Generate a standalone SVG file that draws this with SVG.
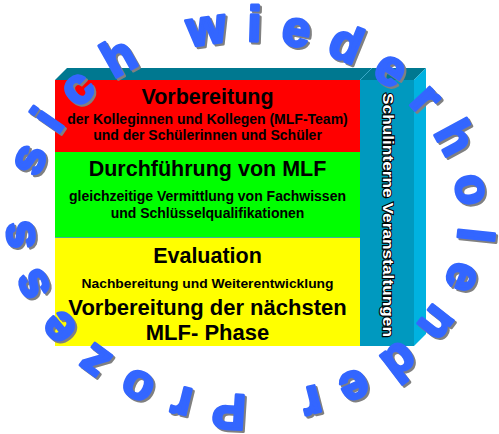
<svg xmlns="http://www.w3.org/2000/svg" xmlns:xlink="http://www.w3.org/1999/xlink" width="499" height="434" viewBox="0 0 499 434">
  <style>
    .t { font-family: "Liberation Sans", Arial, sans-serif; font-weight: bold; fill: #000; text-anchor: middle; }
    .h { font-size: 21.5px; }
    .s { font-size: 14px; }
    .arc { font-family: "Liberation Sans", Arial, sans-serif; font-weight: bold; font-size: 50px; stroke-width: 3px; stroke-linejoin: round; }
    .vt { font-family: "Liberation Sans", Arial, sans-serif; font-weight: bold; font-size: 15px; text-anchor: middle; }
  </style>
  <defs>
    <path id="ring" d="M 38.5,178 A 212,176 0 1 1 453.5,258 A 212,176 0 1 1 38.5,178"/>
  </defs>
  <rect width="499" height="434" fill="#ffffff"/>

  <g id="box">
    <polygon points="55,80 67,68 426,68 414,80" fill="#007890"/>
    <line x1="360" y1="80" x2="372" y2="68" stroke="#3aa8c8" stroke-width="1"/>
    <polygon points="414,80 426,68 426,334 414,346" fill="#00b2e0"/>
  </g>

  <g id="node-vorbereitung">
    <rect x="55" y="80" width="305" height="72" fill="#ff0000"/>
    <text class="t h" x="207.5" y="104">Vorbereitung</text>
    <text class="t s" x="207.5" y="124">der Kolleginnen und Kollegen (MLF-Team)</text>
    <text class="t s" x="207.5" y="140">und der Schülerinnen und Schüler</text>
  </g>

  <g id="node-durchfuehrung">
    <rect x="55" y="152" width="305" height="85" fill="#00ff00"/>
    <text class="t h" x="207.5" y="176">Durchführung von MLF</text>
    <text class="t s" x="207.5" y="201">gleichzeitige Vermittlung von Fachwissen</text>
    <text class="t s" x="207.5" y="217.5">und Schlüsselqualifikationen</text>
  </g>

  <g id="node-evaluation">
    <rect x="55" y="237" width="305" height="109" fill="#ffff00"/>
    <line x1="55" y1="237.5" x2="360" y2="237.5" stroke="#40b0a0" stroke-width="1"/>
    <text class="t h" x="207.5" y="263">Evaluation</text>
    <text class="t" x="207.5" y="288" font-size="12.5" textLength="252" lengthAdjust="spacingAndGlyphs">Nachbereitung und Weiterentwicklung</text>
    <text class="t" x="207.5" y="315" font-size="22">Vorbereitung der nächsten</text>
    <text class="t" x="207.5" y="340" font-size="22">MLF- Phase</text>
  </g>

  <g id="node-schulinterne">
    <rect x="360" y="80" width="54" height="266" fill="#0099bf"/>
    <text class="vt" transform="translate(383,215) rotate(90)" fill="#555555" x="1" y="1" textLength="244" lengthAdjust="spacingAndGlyphs">Schulinterne Veranstaltungen</text>
    <text class="vt" transform="translate(383,215) rotate(90)" fill="#ffffff" stroke="#000000" stroke-width="2" paint-order="stroke" textLength="244" lengthAdjust="spacingAndGlyphs">Schulinterne Veranstaltungen</text>
  </g>

  <g id="connectors"></g>

  <g id="ring-text">
    <text class="arc" fill="#808080" stroke="#808080" transform="translate(2,2)"><textPath xlink:href="#ring" href="#ring" textLength="1185">sich wiederholender Prozess</textPath></text>
    <text class="arc" fill="#3366ff" stroke="#3366ff"><textPath xlink:href="#ring" href="#ring" textLength="1185">sich wiederholender Prozess</textPath></text>
  </g>
</svg>
